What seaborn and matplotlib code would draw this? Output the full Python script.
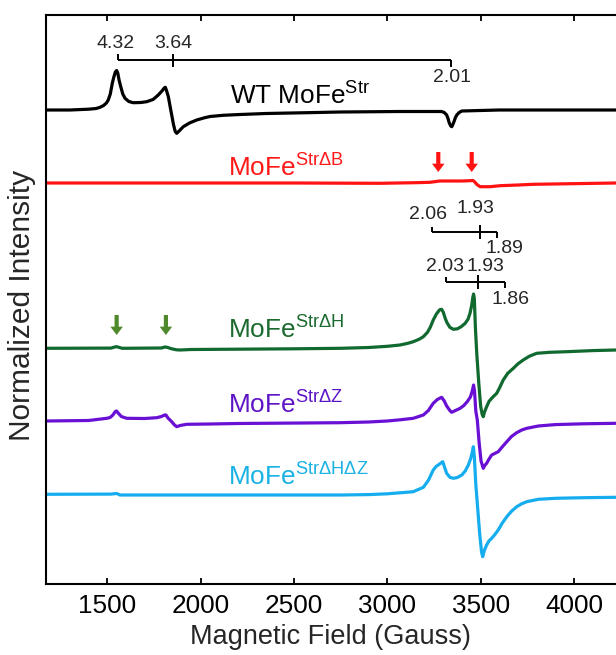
import numpy as np
import pandas as pd
import matplotlib
matplotlib.use("Agg")
import matplotlib.pyplot as plt
import seaborn as sns

# ---------------- data (field in Gauss, signal relative to each baseline) ----------------
wt_field = [1170, 1300, 1400, 1440, 1461, 1480, 1495, 1505, 1516, 1527, 1535, 1543, 1550, 1556,
            1563, 1572, 1583, 1595, 1615, 1639, 1680, 1711, 1745, 1773, 1795, 1805, 1811, 1818,
            1827, 1836, 1845, 1855, 1864, 1872, 1882, 1895, 1907, 1940, 1979, 2020, 2050, 2120,
            2211, 2350, 2568, 2747, 3068, 3290, 3305, 3318, 3325, 3332, 3340, 3345, 3350, 3357,
            3365, 3372, 3385, 3399, 3600, 4225]
wt_signal = [0, 0, 0.8, 1.5, 2.7, 4.5, 7, 10, 16, 27, 33, 38, 39.5, 37,
             30, 23.3, 16, 11.7, 8.5, 7.3, 7.5, 8.3, 10.5, 15, 19.5, 22, 22.7, 19,
             13.3, 4, -5, -15, -21.5, -23.3, -21.5, -19, -16.7, -13, -10, -7.8, -6.5, -5.3,
             -4.5, -3.5, -2.7, -2, -1.5, -1.5, -2.5, -5, -8.5, -13, -16, -16.7, -15, -11.7,
             -7.5, -5, -2.5, -1, 0, 0]

dB_field = [1170, 2500, 2961, 3150, 3229, 3260, 3282, 3400, 3443, 3458, 3466, 3480, 3497, 3550,
            3604, 3700, 3782, 4225]
dB_signal = [0, 0, -0.3, 0.3, 0.7, 1.5, 2, 2, 2.3, 2.5, 1.5, -1.5, -3.7, -3.7,
             -2.7, -2, -1.3, 0]

dH_field = [1170, 1520, 1540, 1550, 1565, 1580, 1790, 1808, 1820, 1845, 1870, 1889, 1950, 2500,
            2750, 2900, 3000, 3068, 3110, 3139, 3170, 3193, 3215, 3230, 3246, 3262, 3280, 3291,
            3300, 3310, 3320, 3335, 3354, 3375, 3395, 3417, 3432, 3443, 3452, 3458, 3462, 3466,
            3472, 3479, 3490, 3500, 3508, 3514, 3520, 3532, 3545, 3559, 3572, 3586, 3600, 3621,
            3645, 3675, 3700, 3728, 3760, 3800, 3870, 3961, 4100, 4225]
dH_signal = [0, 0.2, 1.3, 1.6, 0.8, 0, 0.3, 1.3, 1, -0.5, -1.5, -1.7, -1.2, -0.5,
             0, 0.8, 2, 3.3, 5, 6.6, 9, 11.6, 16, 21, 28.3, 34, 38.5, 39,
             36, 30, 25.5, 21, 19, 19.5, 21.5, 25, 29, 35, 43, 51, 54.3, 50,
             20, -4.7, -35, -58, -66, -68.4, -64, -58.4, -53, -50, -47.5, -45, -40, -31.7,
             -25, -20, -15.5, -11.7, -8, -5, -4, -3.4, -2.3, -1.7]

dZ_field = [1170, 1400, 1497, 1515, 1530, 1543, 1550, 1558, 1575, 1604, 1700, 1765, 1790, 1807,
            1814, 1825, 1845, 1860, 1872, 1890, 1925, 2050, 2200, 2747, 2900, 3000, 3068, 3139,
            3193, 3220, 3246, 3268, 3291, 3305, 3318, 3335, 3345, 3365, 3390, 3410, 3428, 3445,
            3455, 3462, 3467, 3474, 3482, 3492, 3502, 3514, 3522, 3532, 3545, 3559, 3575, 3594,
            3615, 3640, 3665, 3693, 3720, 3747, 3809, 3900, 4050, 4225]
dZ_signal = [0, 0.5, 2.7, 3.5, 6, 9.5, 10, 8, 4.5, 2.7, 2.5, 3.3, 4.5, 6,
             6, 3, -0.7, -4, -5.7, -4.5, -3.3, -3, -2.5, -1.7, -1, 0, 1.2, 2.7,
             6, 10.5, 17.7, 21.5, 23.7, 20, 15, 10.5, 8.7, 10.5, 12.7, 15.5, 19.3, 24,
             30, 36, 30, 10, 1, -22, -40, -47.3, -44.5, -42.3, -38, -34, -32.5, -30.7,
             -26, -20.7, -15.5, -11.7, -9, -7.3, -5, -3.6, -2.8, -2.3]

dHZ_field = [1170, 1520, 1550, 1568, 2750, 2900, 3000, 3068, 3139, 3193, 3220, 3246, 3262, 3273,
             3285, 3297, 3305, 3318, 3335, 3354, 3375, 3399, 3418, 3434, 3447, 3455, 3461, 3466,
             3474, 3482, 3495, 3505, 3511, 3520, 3532, 3545, 3559, 3575, 3594, 3615, 3640, 3665,
             3693, 3720, 3747, 3809, 3900, 4050, 4225]
dHZ_signal = [0, 0.2, 0.8, -0.7, -0.7, -0.3, 0.5, 1.5, 2.6, 7, 14, 24.3, 28, 29.3,
              31, 32.6, 28, 21, 17, 16, 16.8, 19.3, 23.5, 29.3, 36, 42, 47.6, 38,
              10, -9, -40, -58, -62.4, -56, -50.7, -46.5, -44, -40.5, -35.7, -29, -22.4, -17,
              -12.4, -9.5, -7.4, -5, -4, -3.4, -3]

samples = ["WT", "dB", "dH", "dZ", "dHZ"]
labels = ["WT MoFe$^{\\mathregular{Str}}$", "MoFe$^{\\mathregular{Str\u0394B}}$",
          "MoFe$^{\\mathregular{Str\u0394H}}$", "MoFe$^{\\mathregular{Str\u0394Z}}$",
          "MoFe$^{\\mathregular{Str\u0394H\u0394Z}}$"]

# g-value bracket annotations (field positions in Gauss)
wt_g_labels = ["4.32", "3.64", "2.01"]
wt_g_fields = [1556, 1850, 3341]
dH1_g_labels = ["2.06", "1.93", "1.89"]
dH1_g_fields = [3241, 3497, 3589]
dH2_g_labels = ["2.03", "1.93", "1.86"]
dH2_g_fields = [3313, 3484, 3630]

red_arrow_fields = [3273, 3452]
green_arrow_fields = [1550, 1814]

xticks = [1500, 2000, 2500, 3000, 3500, 4000]

# ---------------- layout / style ----------------
offsets = {"WT": 474.3, "dB": 401.3, "dH": 236.0, "dZ": 163.3, "dHZ": 90.0}
colors = {"WT": "#000000", "dB": "#ff1212", "dH": "#10692f", "dZ": "#6a10d4", "dHZ": "#16adef"}
label_colors = {"WT": "#000000", "dB": "#ff1a1a", "dH": "#1b6a2e", "dZ": "#5c14c6", "dHZ": "#19b2e4"}
label_pos = {"WT": (2158, 479.3), "dB": (2148, 407.6), "dH": (2148, 246.0),
             "dZ": (2148, 171.0), "dHZ": (2148, 98.3)}

sns.set_style("ticks")
plt.rcParams["font.family"] = ["Liberation Sans", "DejaVu Sans"]
plt.rcParams["mathtext.fontset"] = "custom"
plt.rcParams["mathtext.rm"] = "Liberation Sans"
plt.rcParams["mathtext.default"] = "regular"

fig = plt.figure(figsize=(6.16, 6.55), dpi=100)
ax = fig.add_axes([45.7 / 616, (655 - 584.3) / 655, 1 - 45.7 / 616, (584.3 - 15) / 655])

fields = {"WT": wt_field, "dB": dB_field, "dH": dH_field, "dZ": dZ_field, "dHZ": dHZ_field}
signals = {"WT": wt_signal, "dB": dB_signal, "dH": dH_signal, "dZ": dZ_signal, "dHZ": dHZ_signal}
frames = []
for s in samples:
    frames.append(pd.DataFrame({"field": fields[s],
                                "signal": np.array(signals[s], float) + offsets[s],
                                "sample": s}))
df = pd.concat(frames, ignore_index=True)

sns.lineplot(data=df, x="field", y="signal", hue="sample", hue_order=samples,
             palette=colors, estimator=None, sort=False, legend=False, lw=2.3, ax=ax)
for ln in ax.lines:
    ln.set_solid_joinstyle("round")
    ln.set_solid_capstyle("round")

# trace labels
for s, lab in zip(samples, labels):
    x, y = label_pos[s]
    ax.text(x, y, lab, color=label_colors[s], fontsize=18.8, ha="left", va="baseline")

# brackets
def bracket(fx, yline, up_left, mid_top, mid_bot, down_right, texts, tpos):
    k = dict(color="black", lw=1.4, solid_capstyle="butt")
    ax.plot([fx[0], fx[2]], [yline, yline], **k)
    ax.plot([fx[0], fx[0]], [yline, up_left], **k)
    ax.plot([fx[1], fx[1]], [mid_top, mid_bot], **k)
    ax.plot([fx[2], fx[2]], [yline, down_right], **k)
    for t, (tx, ty) in zip(texts, tpos):
        ax.text(tx, ty, t, fontsize=14, ha="center", va="center")

bracket(wt_g_fields, 524.3, 530.0, 530.3, 517.3, 517.3, wt_g_labels,
        [(1542, 541.3), (1852, 541.3), (3345, 506.3)])
bracket(dH1_g_fields, 352.0, 357.6, 359.3, 345.0, 346.0, dH1_g_labels,
        [(3220, 369.3), (3470, 376.0), (3630, 336.0)])
bracket(dH2_g_fields, 302.6, 307.6, 309.3, 295.0, 296.0, dH2_g_labels,
        [(3309, 317.6), (3523, 317.6), (3661, 284.3)])

# arrows
astyle = "simple,head_length=0.6,head_width=0.9,tail_width=0.3"
for fx in red_arrow_fields:
    ax.annotate("", xy=(fx, 412.3), xytext=(fx, 432.3),
                arrowprops=dict(arrowstyle=astyle, mutation_scale=10, fc="#ff1212",
                                ec="none", shrinkA=0, shrinkB=0))
for fx in green_arrow_fields:
    ax.annotate("", xy=(fx, 249.3), xytext=(fx, 269.3),
                arrowprops=dict(arrowstyle=astyle, mutation_scale=10, fc="#4e8a2c",
                                ec="none", shrinkA=0, shrinkB=0))

# axes
ax.set_xlim(1170, 4225)
ax.set_ylim(0, 569.3)
ax.set_xticks(xticks)
ax.set_xticklabels([str(t) for t in xticks])
ax.set_yticks([])
ax.spines["right"].set_visible(False)
for sp in ["left", "bottom", "top"]:
    ax.spines[sp].set_linewidth(1.5)
    ax.spines[sp].set_color("black")
ax.tick_params(axis="x", direction="in", top=True, bottom=True, length=4.5, width=1.3,
               labelsize=18.8, pad=7, colors="black")
ax.set_xlabel("Magnetic Field (Gauss)", fontsize=19.5, labelpad=4)
ax.set_ylabel("")
fig.text(22 / 616, 1 - 305 / 655, "Normalized Intensity", rotation=90,
         ha="center", va="center", fontsize=21.5)

fig.savefig("out.png", dpi=100)
